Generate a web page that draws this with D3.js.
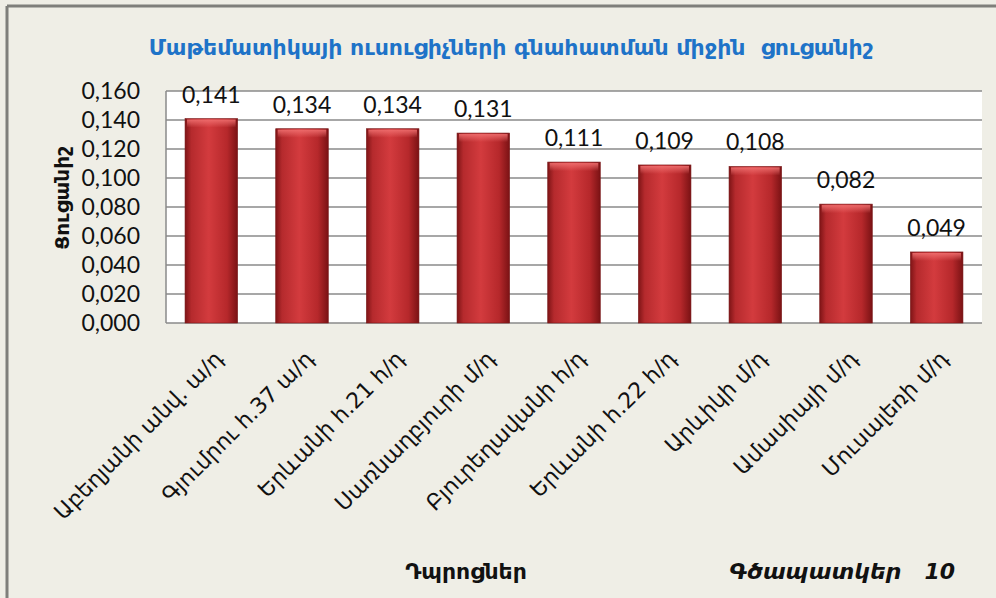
<!DOCTYPE html>
<html>
<head>
  <meta charset="utf-8">
  <title>Մաթեմատիկայի ուսուցիչների գնահատման միջին ցուցանիշ</title>
  <script src="https://cdnjs.cloudflare.com/ajax/libs/d3/7.8.5/d3.min.js"></script>
  <style>
    body { margin: 0; background: #efeee6; }
    svg { display: block; }
    .tick text { font-family: Lato, "DejaVu Sans", sans-serif; }
  </style>
</head>
<body>
<svg id="chart" width="996" height="598"></svg>
<script>
  var schools = ["Աբեղյանի անվ. ա/դ", "Գյումրու հ.37 ա/դ", "Երևանի հ.21 հ/դ", "Սառնաղբյուրի մ/դ",
                 "Բյուրեղավանի հ/դ", "Երևանի հ.22 հ/դ", "Արևիկի մ/դ", "Ամասիայի մ/դ", "Մուսալեռի մ/դ"];
  var scores = [0.141, 0.134, 0.134, 0.131, 0.111, 0.109, 0.108, 0.082, 0.049];
  var yTicks = [0, 0.02, 0.04, 0.06, 0.08, 0.10, 0.12, 0.14, 0.16];

  var title = "Մաթեմատիկայի ուսուցիչների գնահատման միջին  ցուցանիշ";
  var yTitle = "Ցուցանիշ";
  var xTitle = "Դպրոցներ";
  var figNote = "Գծապատկեր   10";

  var svg = d3.select("#chart");
  var plot = {left: 166, right: 982, top: 91, bottom: 323};

  var fmt = function(v) { return d3.format(".3f")(v).replace(".", ","); };

  var x = d3.scaleBand()
    .domain(schools)
    .range([plot.left, plot.right])
    .paddingInner(0.42)
    .paddingOuter(0.21);

  var y = d3.scaleLinear()
    .domain([0, 0.16])
    .range([plot.bottom, plot.top]);

  // outer frame
  svg.append("rect").attr("x", 0).attr("y", 0).attr("width", 996).attr("height", 598).attr("fill", "#efeee6");
  svg.append("line").attr("x1", 7).attr("x2", 996).attr("y1", 6).attr("y2", 6)
    .attr("stroke", "#7f7f7b").attr("stroke-width", 3);
  svg.append("line").attr("x1", 7).attr("x2", 7).attr("y1", 6).attr("y2", 598)
    .attr("stroke", "#7f7f7b").attr("stroke-width", 3);

  var defs = svg.append("defs");
  var grad = defs.append("linearGradient").attr("id", "barGrad").attr("x1", "0").attr("x2", "1").attr("y1", "0").attr("y2", "0");
  grad.append("stop").attr("offset", "0%").attr("stop-color", "#7e1416");
  grad.append("stop").attr("offset", "12%").attr("stop-color", "#b52a2d");
  grad.append("stop").attr("offset", "45%").attr("stop-color", "#d33b3e");
  grad.append("stop").attr("offset", "80%").attr("stop-color", "#b6282b");
  grad.append("stop").attr("offset", "100%").attr("stop-color", "#7a1214");
  var shine = defs.append("linearGradient").attr("id", "barShine").attr("x1", "0").attr("x2", "0").attr("y1", "0").attr("y2", "1");
  shine.append("stop").attr("offset", "0%").attr("stop-color", "#f07070").attr("stop-opacity", 0.9);
  shine.append("stop").attr("offset", "100%").attr("stop-color", "#f07070").attr("stop-opacity", 0);

  // plot background
  svg.append("rect")
    .attr("x", plot.left).attr("y", plot.top)
    .attr("width", plot.right - plot.left).attr("height", plot.bottom - plot.top)
    .attr("fill", "#ffffff");

  // gridlines
  svg.append("g")
    .selectAll("line")
    .data(yTicks)
    .join("line")
    .attr("x1", plot.left).attr("x2", plot.right)
    .attr("y1", d => y(d)).attr("y2", d => y(d))
    .attr("stroke", "#8a8a8a").attr("stroke-width", 1.5);

  svg.append("line")
    .attr("x1", plot.left).attr("x2", plot.left)
    .attr("y1", plot.top).attr("y2", plot.bottom)
    .attr("stroke", "#8a8a8a").attr("stroke-width", 1.5);

  // y axis
  var yAxis = svg.append("g")
    .attr("transform", "translate(" + plot.left + ",0)")
    .call(d3.axisLeft(y).tickValues(yTicks).tickFormat(fmt).tickSize(0).tickPadding(26));
  yAxis.select(".domain").remove();
  yAxis.selectAll("text").attr("font-size", 23).attr("fill", "#111");

  // bars
  var bars = svg.append("g").selectAll("g").data(scores).join("g");
  bars.append("rect")
    .attr("x", (d, i) => x(schools[i]))
    .attr("y", d => y(d))
    .attr("width", x.bandwidth())
    .attr("height", d => plot.bottom - y(d))
    .attr("fill", "url(#barGrad)")
    .attr("stroke", "#7a1a1a").attr("stroke-width", 0.6);
  bars.append("rect")
    .attr("x", (d, i) => x(schools[i]) + 2)
    .attr("y", d => y(d) + 1)
    .attr("width", x.bandwidth() - 4)
    .attr("height", 8)
    .attr("fill", "url(#barShine)");

  // value labels
  svg.append("g").selectAll("text").data(scores).join("text")
    .attr("x", (d, i) => x(schools[i]) + x.bandwidth() / 2)
    .attr("y", d => y(d) - 16)
    .attr("text-anchor", "middle")
    .attr("font-family", "Lato, sans-serif")
    .attr("font-size", 23)
    .attr("fill", "#111")
    .text(fmt);

  // x labels
  svg.append("g").selectAll("text").data(schools).join("text")
    .attr("transform", d => "translate(" + (x(d) + x.bandwidth() / 2 + 13) + ",360) rotate(-45)")
    .attr("text-anchor", "end")
    .attr("font-family", "'DejaVu Sans', sans-serif")
    .attr("font-size", 22)
    .attr("fill", "#111")
    .text(d => d);

  // titles
  svg.append("text")
    .attr("x", 511).attr("y", 55)
    .attr("text-anchor", "middle")
    .attr("font-family", "'DejaVu Sans', sans-serif")
    .attr("font-size", 22).attr("font-weight", "bold")
    .attr("fill", "#1e73c8")
    .style("white-space", "pre")
    .text(title);

  svg.append("text")
    .attr("transform", "translate(69,198) rotate(-90)")
    .attr("text-anchor", "middle")
    .attr("font-family", "'DejaVu Sans', sans-serif")
    .attr("font-size", 20).attr("font-weight", "bold")
    .attr("fill", "#111")
    .text(yTitle);

  svg.append("text")
    .attr("x", 466).attr("y", 579)
    .attr("text-anchor", "middle")
    .attr("font-family", "'DejaVu Sans', sans-serif")
    .attr("font-size", 22).attr("font-weight", "bold")
    .attr("fill", "#111")
    .text(xTitle);

  svg.append("text")
    .attr("x", 955).attr("y", 579)
    .attr("text-anchor", "end")
    .attr("font-family", "'DejaVu Sans', sans-serif")
    .attr("font-size", 22).attr("font-weight", "bold").attr("font-style", "italic")
    .attr("fill", "#111")
    .style("white-space", "pre")
    .text(figNote);
</script>
</body>
</html>
